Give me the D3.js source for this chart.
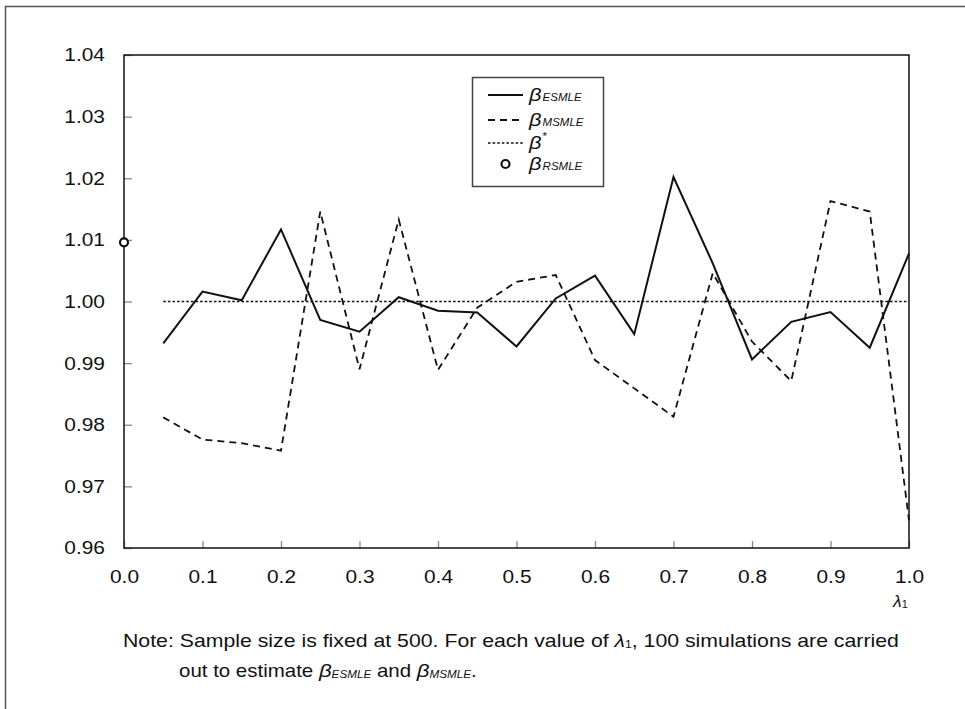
<!DOCTYPE html>
<html>
<head>
<meta charset="utf-8">
<script src="https://cdn.jsdelivr.net/npm/d3@7"></script>
<style>
  html, body { margin: 0; padding: 0; background: #fff; }
  svg { display: block; font-family: "Liberation Sans", Arial, Helvetica, sans-serif; }
</style>
</head>
<body>
<svg id="chart" width="965" height="709"></svg>
<script>
// ---- data ----
const lambdas = [0.05, 0.10, 0.15, 0.20, 0.25, 0.30, 0.35, 0.40, 0.45, 0.50,
                 0.55, 0.60, 0.65, 0.70, 0.75, 0.80, 0.85, 0.90, 0.95, 1.00];
const betaESMLE = [0.9932, 1.0016, 1.0002, 1.0117, 0.9970, 0.9951, 1.0007, 0.9985, 0.9982, 0.9927,
                   1.0005, 1.0042, 0.9947, 1.0202, 1.0062, 0.9906, 0.9967, 0.9983, 0.9925, 1.0078];
const betaMSMLE = [0.9812, 0.9776, 0.9770, 0.9758, 1.0146, 0.9890, 1.0133, 0.9889, 0.9990, 1.0032,
                   1.0043, 0.9905, 0.9859, 0.9813, 1.0046, 0.9935, 0.9871, 1.0163, 1.0146, 0.9645];
const betaStarX = [0.05, 1.00];
const betaStarValue = 1.00;
const betaRSMLE = [{ lambda: 0.0, value: 1.0096 }];
const xTicks = [0.0, 0.1, 0.2, 0.3, 0.4, 0.5, 0.6, 0.7, 0.8, 0.9, 1.0];
const yTicks = [0.96, 0.97, 0.98, 0.99, 1.00, 1.01, 1.02, 1.03, 1.04];

// ---- layout ----
const svg = d3.select("#chart");
const L = 124, R = 909, T = 55, B = 548;
const x = d3.scaleLinear().domain([0, 1]).range([L, R]);
const y = d3.scaleLinear().domain([0.96, 1.04]).range([B, T]);
const SX = 1.13;   // horizontal stretch of the glyphs in the original figure

svg.append("rect").attr("width", 965).attr("height", 709).attr("fill", "#fff");

// outer frame (only left & top visible)
svg.append("path").attr("d", "M5.5,709 V6.5 H965")
  .attr("fill", "none").attr("stroke", "#555").attr("stroke-width", 1.5);

// axes
const yAxis = d3.axisLeft(y).tickValues(yTicks).tickFormat(d3.format(".2f"))
  .tickSize(-8).tickPadding(19);
const gy = svg.append("g").attr("transform", `translate(${L},0)`).call(yAxis);
gy.select(".domain").remove();
gy.selectAll(".tick line").attr("stroke", "#888").attr("stroke-width", 1.3);
gy.selectAll(".tick text").attr("font-size", 18.5).attr("fill", "#111")
  .attr("font-family", "Liberation Sans, Arial, sans-serif")
  .attr("x", 0).attr("transform", `translate(-19,0) scale(${SX},1)`);

const xAxis = d3.axisBottom(x).tickValues(xTicks).tickFormat(d3.format(".1f"))
  .tickSize(-7).tickPadding(22);
const gx = svg.append("g").attr("transform", `translate(0,${B})`).call(xAxis);
gx.select(".domain").remove();
gx.selectAll(".tick line").attr("stroke", "#888").attr("stroke-width", 1.3);
gx.selectAll(".tick text").attr("font-size", 18.5).attr("fill", "#111")
  .attr("font-family", "Liberation Sans, Arial, sans-serif")
  .attr("transform", `scale(${SX},1)`);

// plot box
svg.append("rect").attr("x", L).attr("y", T).attr("width", R - L).attr("height", B - T)
  .attr("fill", "none").attr("stroke", "#111").attr("stroke-width", 1.5);

// lines
const line = d3.line().x(d => x(d[0])).y(d => y(d[1]));
svg.append("path")
  .datum(betaStarX.map(l => [l, betaStarValue]))
  .attr("d", line).attr("fill", "none").attr("stroke", "#111")
  .attr("stroke-width", 1.3).attr("stroke-dasharray", "2.6,2");
svg.append("path")
  .datum(lambdas.map((l, i) => [l, betaMSMLE[i]]))
  .attr("d", line).attr("fill", "none").attr("stroke", "#111")
  .attr("stroke-width", 1.8).attr("stroke-dasharray", "7,5");
svg.append("path")
  .datum(lambdas.map((l, i) => [l, betaESMLE[i]]))
  .attr("d", line).attr("fill", "none").attr("stroke", "#111")
  .attr("stroke-width", 2);
svg.selectAll("circle.rsmle").data(betaRSMLE).enter().append("circle")
  .attr("class", "rsmle")
  .attr("cx", d => x(d.lambda)).attr("cy", d => y(d.value)).attr("r", 4)
  .attr("fill", "#fff").attr("stroke", "#111").attr("stroke-width", 2.2);

// legend
const lg = svg.append("g");
lg.append("rect").attr("x", 472.5).attr("y", 77.5).attr("width", 131).attr("height", 109)
  .attr("fill", "#fff").attr("stroke", "#444").attr("stroke-width", 1.5);
const legendItems = [
  { type: "solid", sub: "ESMLE", sup: null, yy: 95 },
  { type: "dash", sub: "MSMLE", sup: null, yy: 120 },
  { type: "dot", sub: null, sup: "*", yy: 143 },
  { type: "circle", sub: "RSMLE", sup: null, yy: 164 }
];
legendItems.forEach(it => {
  if (it.type === "circle") {
    lg.append("circle").attr("cx", 505.5).attr("cy", it.yy).attr("r", 4)
      .attr("fill", "#fff").attr("stroke", "#111").attr("stroke-width", 2.2);
  } else {
    lg.append("line").attr("x1", 488).attr("x2", 523).attr("y1", it.yy).attr("y2", it.yy)
      .attr("stroke", "#111")
      .attr("stroke-width", it.type === "solid" ? 2 : it.type === "dash" ? 1.8 : 1.3)
      .attr("stroke-dasharray", it.type === "dash" ? "7,5" : it.type === "dot" ? "2.6,2" : null);
  }
  const t = lg.append("text").attr("transform", `translate(529,${it.yy + 6}) scale(1.15,1)`)
    .attr("fill", "#111");
  t.append("tspan").attr("font-size", 19).attr("font-style", "italic").text("β");
  if (it.sub) t.append("tspan").attr("font-size", 10).attr("font-style", "italic").attr("dx", 1).text(it.sub);
  if (it.sup) t.append("tspan").attr("font-size", 10).attr("dy", -9).attr("dx", 1).text(it.sup);
});

// x axis title
const xt = svg.append("text").attr("transform", "translate(893,607) scale(1.1,1)").attr("fill", "#111");
xt.append("tspan").attr("font-size", 16).attr("font-style", "italic").text("λ");
xt.append("tspan").attr("font-size", 10).attr("dy", 1).text("1");

// note
const n1 = svg.append("text").attr("transform", "translate(123,647) scale(1.215,1)")
  .attr("font-size", 17.5).attr("fill", "#111");
n1.append("tspan").text("Note: Sample size is fixed at 500. For each value of ");
n1.append("tspan").attr("font-style", "italic").text("λ");
n1.append("tspan").attr("font-size", 10).attr("dy", 1).text("1");
n1.append("tspan").attr("dy", -1).text(", 100 simulations are carried");

const n2 = svg.append("text").attr("transform", "translate(179,677) scale(1.17,1)")
  .attr("font-size", 17.5).attr("fill", "#111");
n2.append("tspan").text("out to estimate ");
n2.append("tspan").attr("font-style", "italic").attr("font-size", 19).text("β");
n2.append("tspan").attr("font-style", "italic").attr("font-size", 10).attr("dy", 1).text("ESMLE");
n2.append("tspan").attr("dy", -1).text(" and ");
n2.append("tspan").attr("font-style", "italic").attr("font-size", 19).text("β");
n2.append("tspan").attr("font-style", "italic").attr("font-size", 10).attr("dy", 1).text("MSMLE");
n2.append("tspan").attr("dy", -1).text(".");
</script>
</body>
</html>
